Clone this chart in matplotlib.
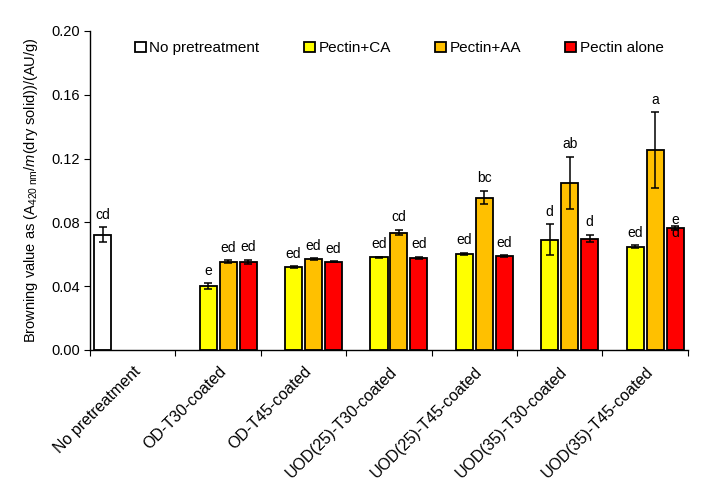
import matplotlib
matplotlib.use("Agg")
import matplotlib.pyplot as plt
import numpy as np

plt.rcParams['font.family'] = ['Liberation Sans', 'DejaVu Sans']
plt.rcParams['mathtext.fontset'] = 'custom'
plt.rcParams['mathtext.rm'] = 'Liberation Sans'
plt.rcParams['mathtext.it'] = 'Liberation Sans:italic'

categories = ["No pretreatment", "OD-T30-coated", "OD-T45-coated", "UOD(25)-T30-coated",
              "UOD(25)-T45-coated", "UOD(35)-T30-coated", "UOD(35)-T45-coated"]
series_names = ["No pretreatment", "Pectin+CA", "Pectin+AA", "Pectin alone"]

no_pre = [0.0721, None, None, None, None, None, None]
no_pre_err = [0.0047, None, None, None, None, None, None]
pectin_ca = [None, 0.0401, 0.0520, 0.0581, 0.0602, 0.0690, 0.0648]
pectin_ca_err = [None, 0.0017, 0.0006, 0.0003, 0.0008, 0.0097, 0.0008]
pectin_aa = [None, 0.0554, 0.0569, 0.0736, 0.0955, 0.1047, 0.1254]
pectin_aa_err = [None, 0.0009, 0.0005, 0.0017, 0.0042, 0.0163, 0.0237]
pectin_alone = [None, 0.0552, 0.0552, 0.0579, 0.0589, 0.0698, 0.0765]
pectin_alone_err = [None, 0.0013, 0.0003, 0.0006, 0.0004, 0.0024, 0.0010]

lab_no_pre = ["cd", None, None, None, None, None, None]
lab_ca = [None, "e", "ed", "ed", "ed", "d", "ed"]
lab_aa = [None, "ed", "ed", "cd", "bc", "ab", "a"]
lab_alone = [None, "ed", "ed", "ed", "ed", "d", "e\nd"]

colors = ["#FFFFFF", "#FFFF00", "#FFC000", "#FF0000"]

fig = plt.figure(figsize=(7.04, 4.99), dpi=100)
ax = fig.add_axes([0.128, 0.2986, 0.849, 0.6393])

x = np.arange(len(categories))
step = 0.234
width = 0.2
data = [(no_pre, no_pre_err, lab_no_pre), (pectin_ca, pectin_ca_err, lab_ca),
        (pectin_aa, pectin_aa_err, lab_aa), (pectin_alone, pectin_alone_err, lab_alone)]

handles = []
for si, (vals, errs, labs) in enumerate(data):
    off = (si - 1.5) * step
    xs = [x[i] + off for i in range(len(vals)) if vals[i] is not None]
    vs = [v for v in vals if v is not None]
    es = [e for e in errs if e is not None]
    ls = [l for l in labs if l is not None]
    b = ax.bar(xs, vs, width=width, color=colors[si], edgecolor='black', linewidth=1.3,
               label=series_names[si], zorder=2)
    handles.append(b)
    ax.errorbar(xs, vs, yerr=es, fmt='none', ecolor='black', elinewidth=1.1,
                capsize=3.2, capthick=1.1, zorder=3)
    for xi, v, e, l in zip(xs, vs, es, ls):
        if "\n" in l:
            ax.annotate(l, (xi, v), xytext=(0, -9), textcoords='offset points',
                        ha='center', va='bottom', fontsize=10, linespacing=0.95, zorder=6)
        else:
            ax.annotate(l, (xi, v + e), xytext=(0, 4), textcoords='offset points',
                        ha='center', va='bottom', fontsize=10, zorder=6)

ax.set_xlim(-0.5, len(categories) - 0.5)
ax.set_ylim(0, 0.20)
ax.set_yticks(np.arange(0, 0.201, 0.04))
ax.set_yticklabels([f"{t:.2f}" for t in np.arange(0, 0.201, 0.04)], fontsize=10.5)
ax.set_xticks(np.arange(-0.5, len(categories), 1.0))
ax.set_xticklabels([])
ax.set_xticks(x, minor=True)
ax.set_xticklabels(categories, minor=True, rotation=45, ha='right', va='top',
                   rotation_mode='anchor', fontsize=11.5)
ax.tick_params(axis='x', which='minor', length=0, pad=10)
ax.tick_params(axis='x', which='major', length=4, direction='out')
ax.tick_params(axis='y', length=4, direction='out')
for s in ['top', 'right']:
    ax.spines[s].set_visible(False)
ax.spines['left'].set_linewidth(1.0)
ax.spines['bottom'].set_linewidth(1.0)

ax.set_ylabel(r"Browning value as (A$_{\mathregular{420\ nm}}$/$\mathit{m}$(dry solid))/(AU/g)",
              fontsize=10.5, labelpad=8)

leg = ax.legend(handles=handles, loc='upper left', bbox_to_anchor=(0.075, 0.968), ncol=4,
                frameon=False, fontsize=11, handlelength=0.7, handleheight=0.7,
                handletextpad=0.25, columnspacing=2.9, borderaxespad=0, borderpad=0)

fig.savefig("out.png", dpi=100)
